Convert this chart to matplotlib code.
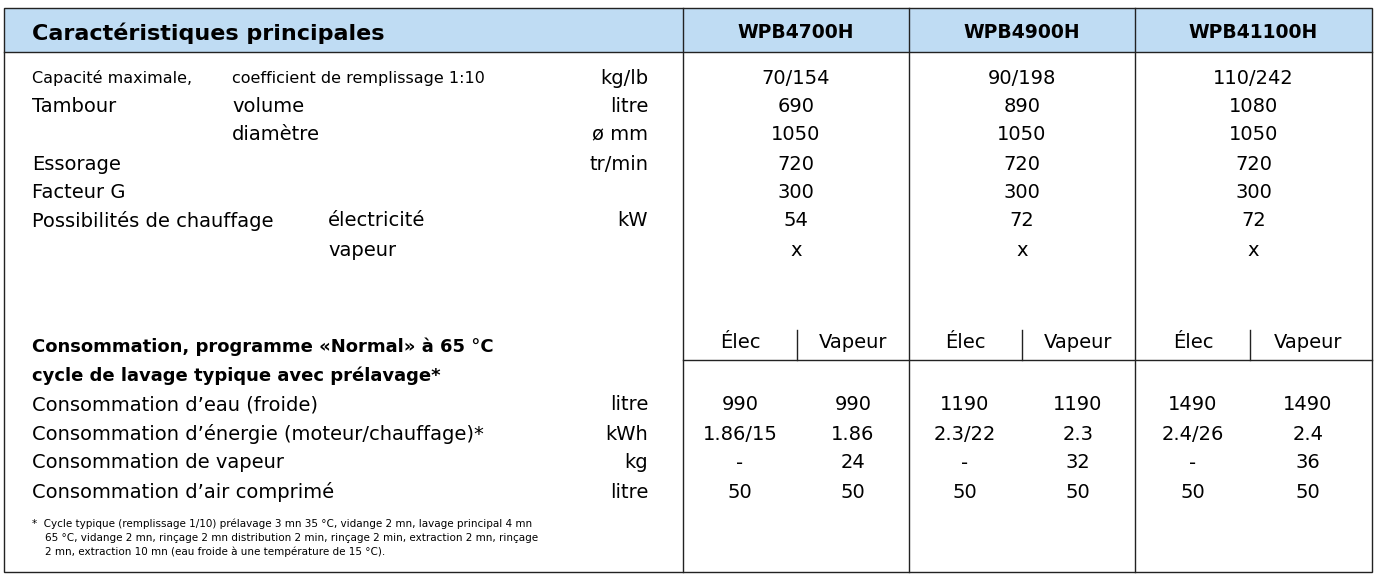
import matplotlib
matplotlib.use("Agg")
import matplotlib.pyplot as plt

plt.rcParams['font.family'] = ['DejaVu Sans']

title = "Caractéristiques principales"
models = ["WPB4700H", "WPB4900H", "WPB41100H"]

spec_labels1 = ["Capacité maximale,", "Tambour", "", "Essorage", "Facteur G", "Possibilités de chauffage", ""]
spec_labels2 = ["coefficient de remplissage 1:10", "volume", "diamètre", "", "", "électricité", "vapeur"]
spec_units = ["kg/lb", "litre", "ø mm", "tr/min", "", "kW", ""]
spec_values = [
    ["70/154", "90/198", "110/242"],
    ["690", "890", "1080"],
    ["1050", "1050", "1050"],
    ["720", "720", "720"],
    ["300", "300", "300"],
    ["54", "72", "72"],
    ["x", "x", "x"],
]

cons_header = ["Consommation, programme «Normal» à 65 °C", "cycle de lavage typique avec prélavage*"]
sub_cols = ["Élec", "Vapeur"]
cons_labels = ["Consommation d’eau (froide)", "Consommation d’énergie (moteur/chauffage)*",
               "Consommation de vapeur", "Consommation d’air comprimé"]
cons_units = ["litre", "kWh", "kg", "litre"]
cons_values = [
    ["990", "990", "1190", "1190", "1490", "1490"],
    ["1.86/15", "1.86", "2.3/22", "2.3", "2.4/26", "2.4"],
    ["-", "24", "-", "32", "-", "36"],
    ["50", "50", "50", "50", "50", "50"],
]
footnote = ["*  Cycle typique (remplissage 1/10) prélavage 3 mn 35 °C, vidange 2 mn, lavage principal 4 mn",
            "    65 °C, vidange 2 mn, rinçage 2 mn distribution 2 min, rinçage 2 min, extraction 2 mn, rinçage",
            "    2 mn, extraction 10 mn (eau froide à une température de 15 °C)."]

fig = plt.figure(figsize=(13.76, 5.76), dpi=100)
ax = fig.add_axes([0, 0, 1, 1])
ax.set_xlim(0, 1376)
ax.set_ylim(576, 0)
ax.axis('off')

FS = 14
lc = '#222222'
ax.add_patch(plt.Rectangle((4, 8), 1368, 44, facecolor='#bfdcf3', edgecolor='none'))
ax.add_patch(plt.Rectangle((4, 8), 1368, 564, facecolor='none', edgecolor=lc, lw=1))
ax.plot([4, 1372], [52, 52], color=lc, lw=1)
colx = [683, 909, 1135, 1372]
for x in colx[:3]:
    ax.plot([x, x], [8, 572], color=lc, lw=1)
for x in [797, 1022, 1250]:
    ax.plot([x, x], [330, 360], color=lc, lw=1)
ax.plot([683, 1372], [360, 360], color=lc, lw=1)

ax.text(32, 33, title, fontsize=16, fontweight='bold', va='center', ha='left')
centers = [(colx[i] + colx[i+1]) / 2 for i in range(3)]
for c, m in zip(centers, models):
    ax.text(c, 33, m, fontsize=13.5, fontweight='bold', va='center', ha='center')

ys = [78, 107, 135, 164, 192, 221, 250]
for i, y in enumerate(ys):
    fs = 11.5 if i == 0 else FS
    ax.text(32, y, spec_labels1[i], fontsize=fs, va='center')
    if spec_labels2[i]:
        x2 = 232 if i < 5 else 328
        ax.text(x2, y, spec_labels2[i], fontsize=fs, va='center')
    ax.text(648, y, spec_units[i], fontsize=FS, va='center', ha='right')
    for c, v in zip(centers, spec_values[i]):
        ax.text(c, y, v, fontsize=FS, va='center', ha='center')

ax.text(32, 347, cons_header[0], fontsize=13, fontweight='bold', va='center')
ax.text(32, 376, cons_header[1], fontsize=13, fontweight='bold', va='center')
subc = [740, 853, 965, 1078, 1193, 1308]
for j, c in enumerate(subc):
    ax.text(c, 343, sub_cols[j % 2], fontsize=FS, va='center', ha='center')

cy = [405, 434, 463, 492]
for i, y in enumerate(cy):
    ax.text(32, y, cons_labels[i], fontsize=FS, va='center')
    ax.text(648, y, cons_units[i], fontsize=FS, va='center', ha='right')
    for c, v in zip(subc, cons_values[i]):
        ax.text(c, y, v, fontsize=FS, va='center', ha='center')

for k, line in enumerate(footnote):
    ax.text(32, 524 + 14 * k, line, fontsize=7.5, va='center')

fig.savefig("out.png", dpi=100)
